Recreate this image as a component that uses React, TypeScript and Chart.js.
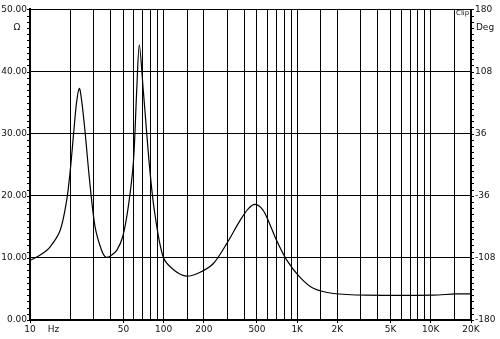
import React, { useEffect, useRef } from 'react';
import { Chart, registerables } from 'chart.js';
Chart.register(...registerables);

// Impedance curve (Hz, ohms)
const FREQS = [10, 12, 14.1, 16.8, 18.8, 20, 21.2, 22.3, 23.4, 24.4, 25.8, 28.1, 30.7, 34.4, 37.1, 40.5, 44.6, 49.4, 54.4, 59.5, 62.9, 65.8, 70.5, 79, 86, 99.5, 120, 149, 188, 236, 297, 373, 430, 484, 540, 591, 702, 838, 1047, 1320, 1865, 3300, 10400, 15400, 20000];
const IMPEDANCE = [9.6, 10.5, 11.75, 14.4, 19.2, 24.0, 30.0, 35.0, 37.3, 35.2, 30.4, 21.9, 15.0, 11.2, 10.1, 10.4, 11.2, 13.4, 18.2, 25.6, 36.9, 44.3, 36.9, 24.0, 17.1, 10.1, 8.0, 7.05, 7.7, 9.1, 12.3, 16.0, 17.9, 18.6, 18.0, 16.6, 12.8, 9.6, 6.9, 5.1, 4.27, 4.0, 4.0, 4.2, 4.2];

// Axis ticks
const X_GRID = [10, 15, 20, 30, 40, 50, 60, 70, 80, 90, 100, 150, 200, 300, 400, 500, 600, 700, 800, 900, 1000, 1500, 2000, 3000, 4000, 5000, 6000, 7000, 8000, 9000, 10000, 15000, 20000];
const X_LABEL_VALUES = [10, 15, 50, 100, 200, 500, 1000, 2000, 5000, 10000, 20000];
const X_LABEL_TEXT = ['10', 'Hz', '50', '100', '200', '500', '1K', '2K', '5K', '10K', '20K'];
const Y_LEFT_MIN = 0;
const Y_LEFT_MAX = 50;
const Y_LEFT_STEP = 10;
const Y_RIGHT_MIN = -180;
const Y_RIGHT_MAX = 180;
const Y_RIGHT_STEP = 72;

const FONT = { family: '"DejaVu Sans", Verdana, sans-serif', size: 9 };

const extras = {
  id: 'extras',
  afterDraw(chart: any) {
    const ctx = chart.ctx;
    const a = chart.chartArea;
    const yl = chart.scales.y;
    const yr = chart.scales.y2;
    ctx.save();
    ctx.strokeStyle = '#000';
    ctx.lineWidth = 1;
    ctx.beginPath();
    for (let v = Y_LEFT_MIN; v <= Y_LEFT_MAX; v += 1) {
      const py = Math.round(yl.getPixelForValue(v)) + 0.5;
      ctx.moveTo(a.left - 3, py);
      ctx.lineTo(a.left, py);
    }
    for (let i = 0; i <= 50; i++) {
      const v = Y_RIGHT_MIN + i * 7.2;
      const py = Math.round(yr.getPixelForValue(v)) + 0.5;
      ctx.moveTo(a.right, py);
      ctx.lineTo(a.right + 3, py);
    }
    ctx.stroke();
    ctx.fillStyle = '#111';
    ctx.font = `9px ${FONT.family}`;
    ctx.textBaseline = 'middle';
    ctx.textAlign = 'center';
    ctx.fillText('Ω', 17, 28);
    ctx.fillText('Deg', 485, 28);
    ctx.font = `7px ${FONT.family}`;
    ctx.textAlign = 'left';
    ctx.fillText('Clip', 456, 13);
    ctx.restore();
  },
};

export default function App() {
  const ref = useRef<HTMLCanvasElement | null>(null);
  useEffect(() => {
    document.body.style.margin = '0';
    const chart = new Chart(ref.current as HTMLCanvasElement, {
      type: 'line',
      data: {
        datasets: [
          {
            data: FREQS.map((f, i) => ({ x: f, y: IMPEDANCE[i] })),
            borderColor: '#000',
            borderWidth: 1.2,
            pointRadius: 0,
            tension: 0.3,
            fill: false,
          },
        ],
      },
      options: {
        animation: false,
        responsive: false,
        layout: { padding: { top: 8, left: 0, right: 0, bottom: 0 } },
        plugins: { legend: { display: false }, tooltip: { enabled: false } },
        scales: {
          x: {
            type: 'logarithmic',
            min: 10,
            max: 20000,
            afterBuildTicks: (s: any) => {
              s.ticks = X_GRID.map((v) => ({ value: v }));
            },
            afterFit: (s: any) => {
              s.height = 19;
            },
            border: { display: true, color: '#000', width: 2 },
            grid: {
              color: (c: any) => (c.tick && c.tick.value === 15 ? 'rgba(0,0,0,0)' : '#000'),
              lineWidth: 1,
              drawTicks: true,
              tickLength: 3,
              tickColor: (c: any) => {
                const v = c.tick && c.tick.value;
                return X_LABEL_VALUES.includes(v) && v !== 15 ? '#000' : 'rgba(0,0,0,0)';
              },
            },
            ticks: {
              autoSkip: false,
              maxRotation: 0,
              minRotation: 0,
              padding: 1,
              color: '#111',
              font: FONT,
              callback: (v: any) => {
                const i = X_LABEL_VALUES.indexOf(Number(v));
                return i >= 0 ? X_LABEL_TEXT[i] : '';
              },
            },
          },
          y: {
            type: 'linear',
            position: 'left',
            min: Y_LEFT_MIN,
            max: Y_LEFT_MAX,
            afterFit: (s: any) => {
              s.width = 30;
            },
            border: { display: true, color: '#000', width: 2 },
            grid: { color: '#000', lineWidth: 1, drawTicks: false },
            ticks: {
              stepSize: Y_LEFT_STEP,
              padding: 3,
              color: '#111',
              font: FONT,
              callback: (v: any) => Number(v).toFixed(2),
            },
          },
          y2: {
            type: 'linear',
            position: 'right',
            min: Y_RIGHT_MIN,
            max: Y_RIGHT_MAX,
            afterFit: (s: any) => {
              s.width = 29;
            },
            border: { display: true, color: '#000', width: 1.5 },
            grid: { drawOnChartArea: false, drawTicks: false },
            ticks: {
              stepSize: Y_RIGHT_STEP,
              padding: 4,
              color: '#111',
              font: FONT,
              callback: (v: any) => String(Math.round(Number(v))),
            },
          },
        },
      },
      plugins: [extras],
    } as any);
    return () => chart.destroy();
  }, []);
  return (
    <div style={{ position: 'absolute', left: 0, top: 0, width: 500, height: 339, background: '#fff' }}>
      <canvas ref={ref} width={500} height={339} style={{ display: 'block' }} />
    </div>
  );
}
